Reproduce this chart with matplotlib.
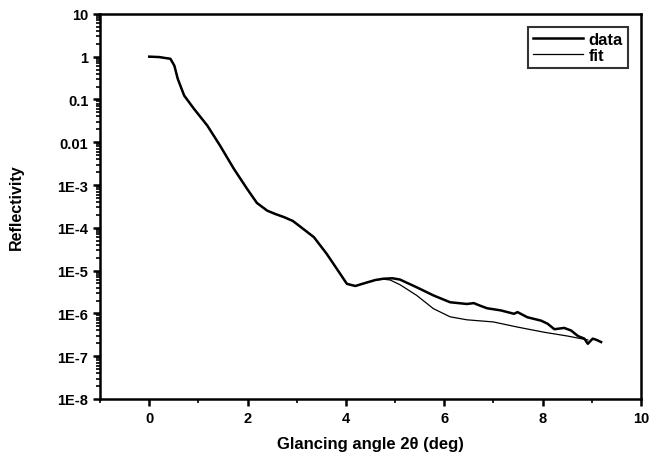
import matplotlib
matplotlib.use("Agg")
import matplotlib.pyplot as plt
import numpy as np
from matplotlib.ticker import LogLocator, FixedLocator, MultipleLocator

plt.rcParams['font.family'] = ['Liberation Sans', 'DejaVu Sans']

# data curve (angle in deg, log10 reflectivity)
data_x = [0.0, 0.2, 0.43, 0.51, 0.58, 0.71, 0.91, 1.18, 1.44, 1.72, 1.99, 2.19, 2.40,
          2.57, 2.74, 2.92, 3.08, 3.35, 3.61, 3.88, 4.02, 4.19, 4.42, 4.60, 4.76, 4.95, 5.10,
          5.25, 5.44, 5.78, 6.12, 6.46, 6.60, 6.73, 6.87, 7.15, 7.42, 7.49, 7.69, 7.97,
          8.10, 8.24, 8.44, 8.58, 8.72, 8.85, 8.92, 9.02, 9.10, 9.19]
data_log = [0.0, -0.01, -0.05, -0.21, -0.52, -0.91, -1.22, -1.61, -2.08, -2.62, -3.09, -3.42, -3.60,
            -3.68, -3.75, -3.84, -3.98, -4.22, -4.61, -5.07, -5.31, -5.36, -5.28, -5.22, -5.19, -5.18, -5.21,
            -5.29, -5.39, -5.58, -5.74, -5.78, -5.76, -5.82, -5.88, -5.93, -6.01, -5.97, -6.09, -6.17,
            -6.24, -6.37, -6.34, -6.40, -6.53, -6.59, -6.71, -6.59, -6.62, -6.67]

# fit curve
fit_x = [0.0, 0.2, 0.43, 0.51, 0.58, 0.71, 0.91, 1.18, 1.44, 1.72, 1.99, 2.19, 2.40,
         2.57, 2.74, 2.92, 3.08, 3.35, 3.61, 3.88, 4.02, 4.19, 4.42, 4.60, 4.76, 4.90, 5.10,
         5.25, 5.44, 5.78, 6.12, 6.46, 7.00, 7.49, 8.03, 8.51, 8.78, 8.92]
fit_log = [0.0, -0.01, -0.05, -0.21, -0.52, -0.91, -1.22, -1.61, -2.08, -2.62, -3.09, -3.42, -3.60,
           -3.68, -3.75, -3.84, -3.98, -4.22, -4.61, -5.07, -5.31, -5.36, -5.28, -5.22, -5.20, -5.22, -5.33,
           -5.44, -5.58, -5.89, -6.08, -6.15, -6.20, -6.32, -6.44, -6.53, -6.59, -6.62]

x_major = [0, 2, 4, 6, 8, 10]
y_major = [1e1, 1e0, 1e-1, 1e-2, 1e-3, 1e-4, 1e-5, 1e-6, 1e-7, 1e-8]
y_labels = ['10', '1', '0.1', '0.01', '1E-3', '1E-4', '1E-5', '1E-6', '1E-7', '1E-8']

fig = plt.figure(figsize=(6.5, 4.64), dpi=100)
ax = fig.add_axes([0.154, 0.138, 0.832, 0.830])

ax.plot(data_x, 10 ** np.array(data_log), color='black', lw=1.8, label='data')
ax.plot(fit_x, 10 ** np.array(fit_log), color='black', lw=0.9, label='fit')

ax.set_yscale('log')
ax.set_xlim(-1, 10)
ax.set_ylim(1e-8, 10)
ax.yaxis.set_major_locator(FixedLocator(y_major))
ax.set_yticklabels(y_labels)
ax.yaxis.set_minor_locator(LogLocator(base=10, subs=np.arange(2, 10), numticks=20))
ax.yaxis.set_minor_formatter(plt.NullFormatter())
ax.xaxis.set_major_locator(FixedLocator(x_major))
ax.xaxis.set_minor_locator(MultipleLocator(1))

for s in ax.spines.values():
    s.set_linewidth(1.8)
ax.tick_params(which='major', direction='out', length=5, width=1.8, labelsize=10.5)
ax.tick_params(which='minor', direction='out', length=3, width=1.2)
for lab in ax.get_xticklabels() + ax.get_yticklabels():
    lab.set_fontweight('bold')

ax.set_xlabel('Glancing angle 2θ (deg)', fontsize=12, fontweight='bold', labelpad=8)
ax.set_ylabel('Reflectivity', fontsize=11.5, fontweight='bold', labelpad=24)

leg = ax.legend(loc='upper right', fancybox=False, edgecolor='black', fontsize=12,
                handlelength=3.0, handletextpad=0.3, borderpad=0.3, labelspacing=0.05,
                borderaxespad=0.8)
leg.get_frame().set_linewidth(1.5)
for t in leg.get_texts():
    t.set_fontweight('bold')

fig.savefig('out.png', dpi=100)
